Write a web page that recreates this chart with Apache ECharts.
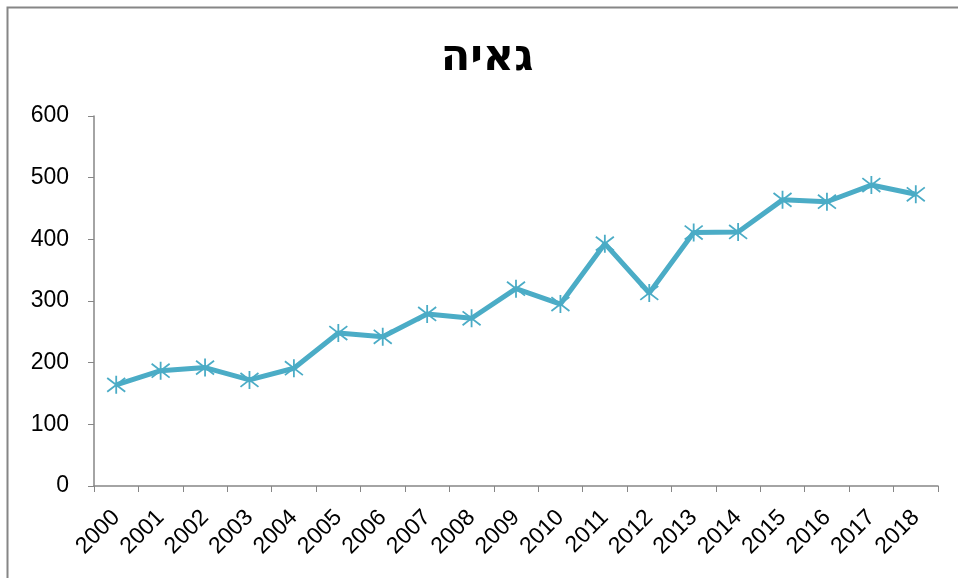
<!DOCTYPE html>
<html>

<head>
    <meta charset="utf-8" />
    <title>ECharts</title>
    <script src="https://cdn.jsdelivr.net/npm/echarts@6.0.0/dist/echarts.min.js"></script>
</head>

<body style="margin:0">
    <div id="main" style="width: 958px;height:578px;"></div>
    <script type="text/javascript">
        var years = ['2000', '2001', '2002', '2003', '2004', '2005', '2006', '2007', '2008', '2009',
            '2010', '2011', '2012', '2013', '2014', '2015', '2016', '2017', '2018'];
        var values = [164, 187, 192, 172, 191, 248, 242, 279, 272, 320,
            295, 393, 313, 411, 412, 464, 461, 488, 473];
        var titleText = 'גאיה';

        var myChart = echarts.init(document.getElementById('main'));
        var lineColor = '#4bacc6';
        var axisColor = '#868686';
        var option = {
            backgroundColor: '#fff',
            animation: false,
            title: {
                text: titleText,
                left: 482,
                top: 32,
                textAlign: 'center',
                textStyle: {
                    fontFamily: 'DejaVu Sans',
                    fontWeight: 'bold',
                    fontSize: 43,
                    color: '#000'
                }
            },
            graphic: [{
                type: 'rect',
                shape: { x: 7.5, y: 7.5, width: 1000, height: 1000 },
                style: { fill: 'none', stroke: axisColor, lineWidth: 2 }
            }],
            grid: { left: 94, right: 20, top: 116, bottom: 92 },
            xAxis: {
                type: 'category',
                data: years,
                boundaryGap: true,
                axisLine: { lineStyle: { color: axisColor, width: 1.5 } },
                axisTick: { show: true, length: 6, lineStyle: { color: axisColor } },
                axisLabel: {
                    rotate: 45,
                    interval: 0,
                    color: '#000',
                    fontSize: 23,
                    fontFamily: 'Liberation Sans',
                    margin: 28
                }
            },
            yAxis: {
                type: 'value',
                min: 0,
                max: 600,
                interval: 100,
                splitLine: { show: false },
                axisLine: { show: true, lineStyle: { color: axisColor, width: 1.5 } },
                axisTick: { show: true, length: 6, lineStyle: { color: axisColor } },
                axisLabel: {
                    color: '#000',
                    fontSize: 23,
                    fontFamily: 'Liberation Sans',
                    margin: 25
                }
            },
            series: [{
                type: 'line',
                data: values,
                symbol: 'path://M0,0L10,10M10,0L0,10M5,-1.5L5,11.5',
                symbolSize: 18,
                showAllSymbol: true,
                lineStyle: { color: lineColor, width: 5 },
                itemStyle: { color: lineColor, borderColor: lineColor, borderWidth: 1.8 }
            }]
        };
        myChart.setOption(option);
    </script>
</body>

</html>
